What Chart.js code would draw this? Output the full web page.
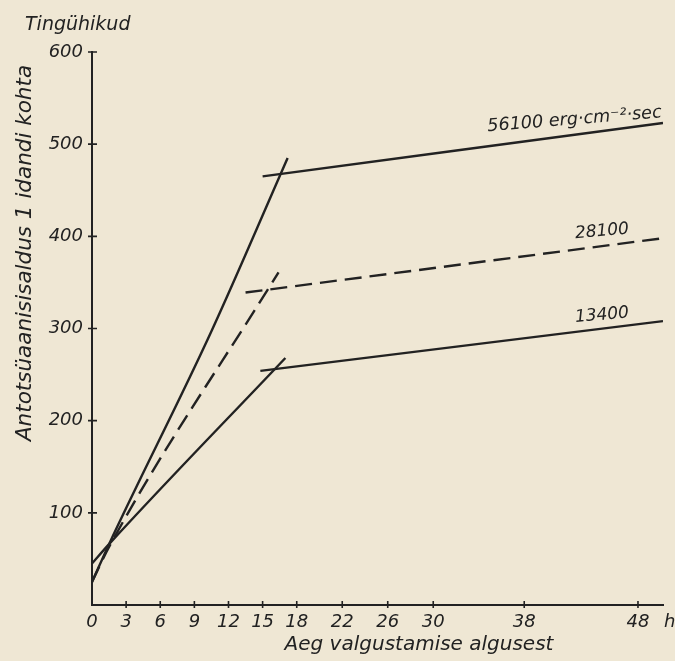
<!DOCTYPE html>
<html>
<head>
<meta charset="utf-8">
<script src="https://cdn.jsdelivr.net/npm/chart.js@4.4.1/dist/chart.umd.min.js"></script>
<style>
html,body{margin:0;padding:0;background:#efe7d4;}
canvas{display:block;}
</style>
</head>
<body>
<canvas id="c" width="675" height="661"></canvas>
<script>
// ---- data ----
const xTickValues = [0, 3, 6, 9, 12, 15, 18, 22, 26, 30, 38, 48];
const yTickValues = [100, 200, 300, 400, 500, 600];
const seriesNames = ['56100 erg·cm⁻²·sec', '28100', '13400'];

const rise56100X = [0, 1.5, 10.5, 17.2];
const rise56100Y = [25, 66, 297, 485];
const plateau56100X = [15.0, 50.2];
const plateau56100Y = [465, 523];

const rise28100X = [0, 1.5, 16.4];
const rise28100Y = [25, 63, 361];
const plateau28100X = [13.5, 50.2];
const plateau28100Y = [339, 398];

const rise13400X = [0, 1.5, 17.0];
const rise13400Y = [45, 66, 268];
const plateau13400X = [14.8, 50.2];
const plateau13400Y = [254, 308];

const yTitle = 'Antotsüaanisisaldus 1 idandi kohta';
const xTitle = 'Aeg valgustamise algusest';
const unitTitle = 'Tingühikud';
const xUnit = 'h';

// ---- styling ----
const paper = '#efe7d4';
const ink = '#222222';
const FONT = '"DejaVu Sans", sans-serif';

function pts(xs, ys) { return xs.map((v, i) => ({x: v, y: ys[i]})); }
function ds(label, xs, ys, dashed) {
  return {
    label: label,
    data: pts(xs, ys),
    showLine: true,
    borderColor: ink,
    backgroundColor: ink,
    borderWidth: 2.4,
    pointRadius: 0,
    pointHoverRadius: 0,
    cubicInterpolationMode: 'monotone',
    borderDash: dashed ? [17, 8] : [],
    borderCapStyle: 'butt'
  };
}

// label anchors in data coordinates (text placement only)
const labelAnchors = [
  {text: seriesNames[0], x: 34.8, y: 514, rot: -4.6, size: 17.6},
  {text: seriesNames[1], x: 42.5, y: 398, rot: -5, size: 17},
  {text: seriesNames[2], x: 42.5, y: 307, rot: -5, size: 17}
];

const decor = {
  id: 'decor',
  beforeDraw(chart) {
    const c = chart.ctx;
    c.save();
    c.fillStyle = paper;
    c.fillRect(0, 0, chart.width, chart.height);
    c.restore();
  },
  afterDraw(chart) {
    const c = chart.ctx;
    const x = chart.scales.x, y = chart.scales.y;
    c.save();
    c.strokeStyle = ink;
    c.lineWidth = 1.6;
    c.beginPath();
    yTickValues.forEach(v => {
      const py = y.getPixelForValue(v);
      c.moveTo(x.left - 4, py); c.lineTo(x.left + 5, py);
    });
    xTickValues.forEach(v => {
      if (v === 0) return;
      const px = x.getPixelForValue(v);
      c.moveTo(px, y.bottom - 4); c.lineTo(px, y.bottom + 3);
    });
    c.stroke();

    c.fillStyle = ink;
    c.textBaseline = 'middle';
    c.font = 'italic 19px ' + FONT;
    c.textAlign = 'left';
    c.fillText(unitTitle, 25, 25);

    c.save();
    c.translate(25, 253);
    c.rotate(-Math.PI / 2);
    c.textAlign = 'center';
    c.font = 'italic 21.5px ' + FONT;
    c.fillText(yTitle, 0, 0);
    c.restore();

    c.font = 'italic 20px ' + FONT;
    c.textAlign = 'center';
    c.fillText(xTitle, 419, 645);

    c.font = 'italic 18px ' + FONT;
    c.textAlign = 'left';
    c.fillText(xUnit, x.right + 1, 622);

    c.textBaseline = 'alphabetic';
    labelAnchors.forEach(l => {
      c.save();
      c.font = 'italic ' + l.size + 'px ' + FONT;
      c.translate(x.getPixelForValue(l.x), y.getPixelForValue(l.y));
      c.rotate(l.rot * Math.PI / 180);
      c.textAlign = 'left';
      c.fillText(l.text, 0, 0);
      c.restore();
    });
    c.restore();
  }
};

new Chart(document.getElementById('c'), {
  type: 'scatter',
  data: {
    datasets: [
      ds(seriesNames[0], rise56100X, rise56100Y, false),
      ds(seriesNames[0], plateau56100X, plateau56100Y, false),
      ds(seriesNames[1], rise28100X, rise28100Y, true),
      ds(seriesNames[1], plateau28100X, plateau28100Y, true),
      ds(seriesNames[2], rise13400X, rise13400Y, false),
      ds(seriesNames[2], plateau13400X, plateau13400Y, false)
    ]
  },
  options: {
    responsive: false,
    animation: false,
    events: [],
    layout: {padding: {top: 52, right: 12, bottom: 0, left: 0}},
    plugins: {legend: {display: false}, tooltip: {enabled: false}, title: {display: false}},
    scales: {
      x: {
        type: 'linear',
        min: 0,
        max: 50.2,
        afterBuildTicks: s => { s.ticks = xTickValues.map(v => ({value: v})); },
        afterFit: s => { s.height = 56; },
        grid: {display: false, drawTicks: false},
        border: {display: true, color: ink, width: 2},
        ticks: {
          color: ink,
          font: {family: FONT, size: 18, style: 'italic'},
          padding: 7,
          maxRotation: 0,
          autoSkip: false
        }
      },
      y: {
        type: 'linear',
        min: 0,
        max: 600,
        afterBuildTicks: s => { s.ticks = yTickValues.map(v => ({value: v})); },
        afterFit: s => { s.width = 92; },
        grid: {display: false, drawTicks: false},
        border: {display: true, color: ink, width: 2},
        ticks: {
          color: ink,
          font: {family: FONT, size: 18, style: 'italic'},
          padding: 9,
          autoSkip: false
        }
      }
    }
  },
  plugins: [decor]
});
</script>
</body>
</html>
